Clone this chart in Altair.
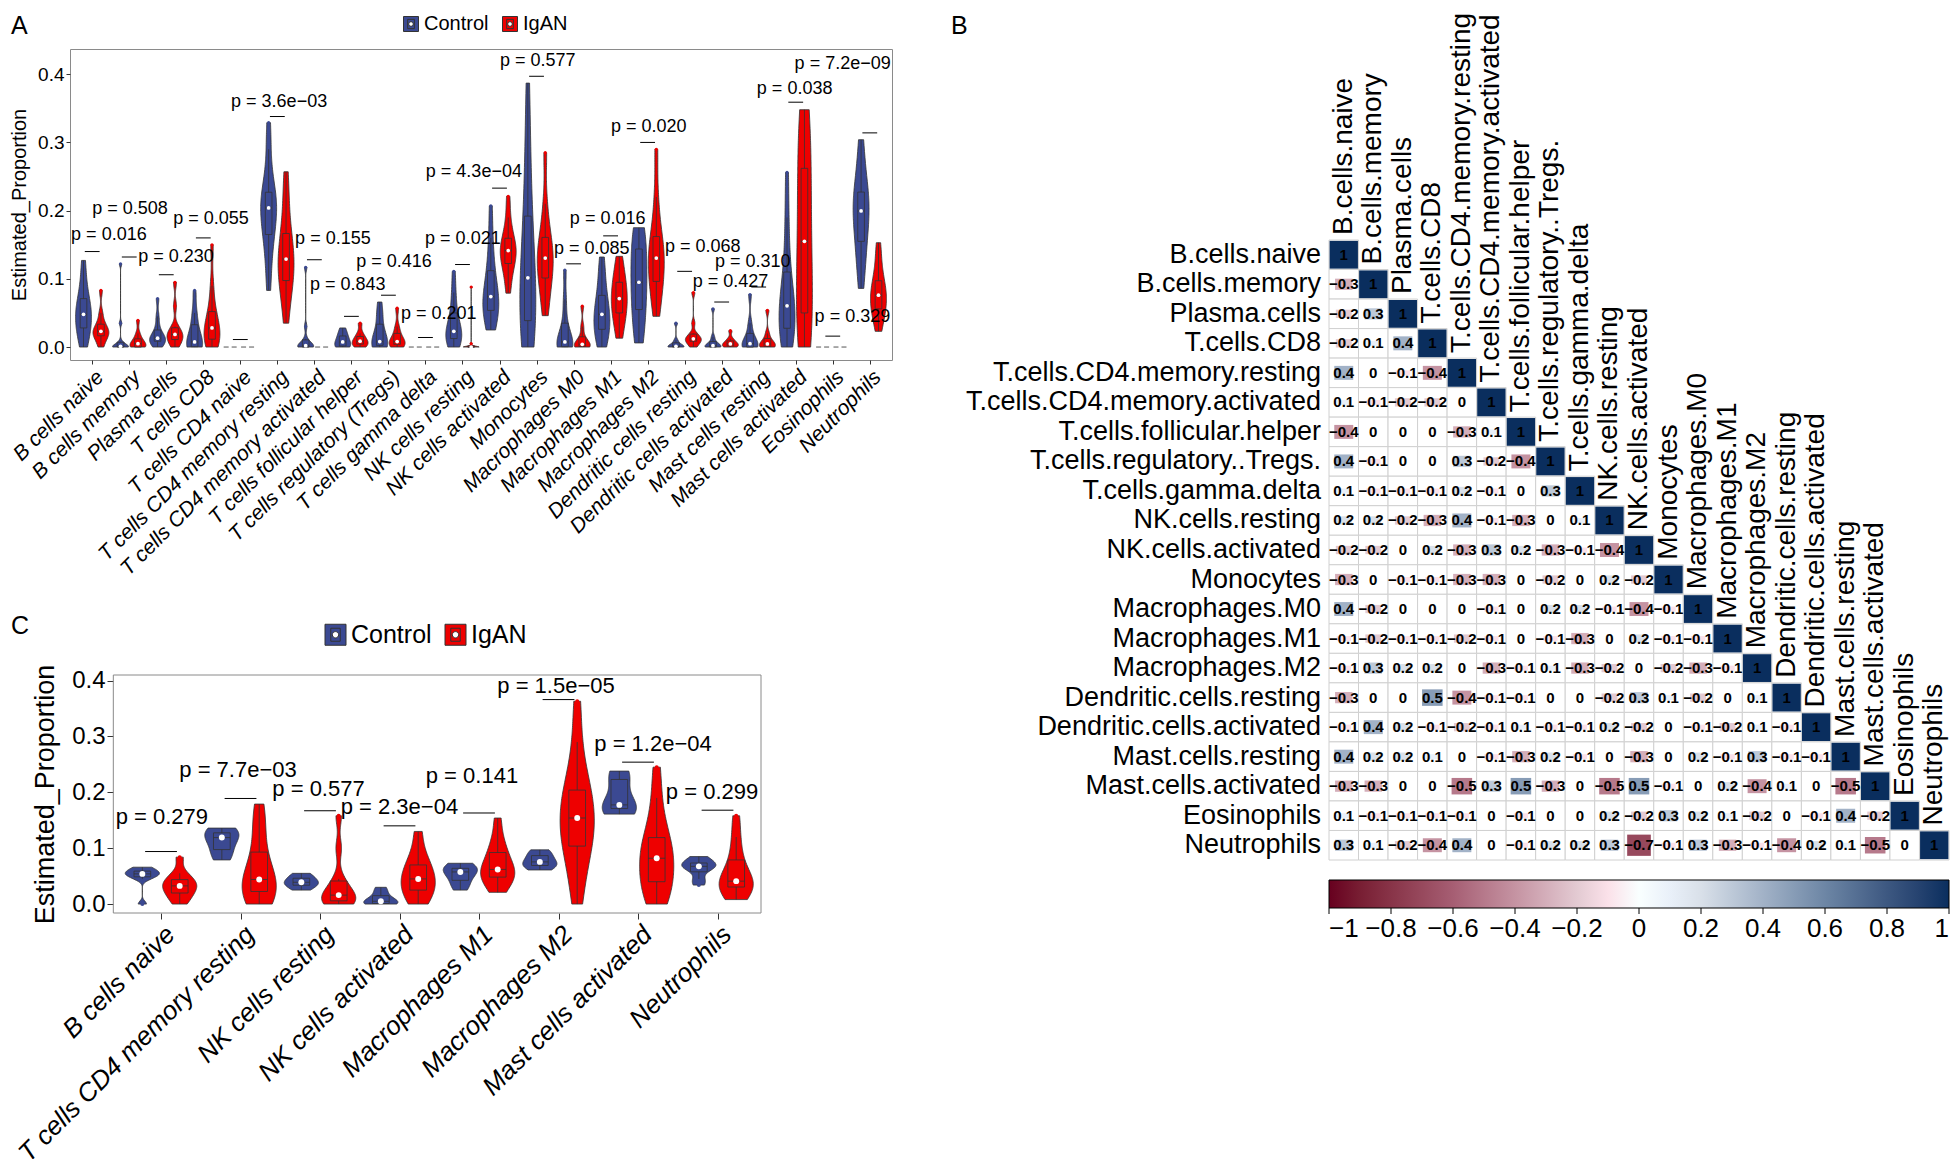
import altair as alt
import pandas as pd

FONT = "Liberation Sans"
CTRL_COL = "#3B4992"
IGAN_COL = "#EE0000"
GROUPS = ["Control", "IgAN"]
# legend glyph: filled square with a small box outline and a white median dot (hole)
LEG_SYMBOL = ("M-1,-1H1V1H-1Z M-0.45,-0.62H0.45 M-0.45,0.62H0.45 M-0.45,-0.62V0.62 M0.45,-0.62V0.62 "
              "M0,-0.3A0.3,0.3 0 1,0 0,0.3A0.3,0.3 0 1,0 0,-0.3Z")

# ---------------- Panel A data ----------------
A_cats = ["B cells naive", "B cells memory", "Plasma cells", "T cells CD8", "T cells CD4 naive",
          "T cells CD4 memory resting", "T cells CD4 memory activated", "T cells follicular helper",
          "T cells regulatory (Tregs)", "T cells gamma delta", "NK cells resting", "NK cells activated",
          "Monocytes", "Macrophages M0", "Macrophages M1", "Macrophages M2", "Dendritic cells resting",
          "Dendritic cells activated", "Mast cells resting", "Mast cells activated", "Eosinophils",
          "Neutrophils"]
A_control = [
    [0.0, 0.01, 0.022, 0.03, 0.04, 0.046, 0.05, 0.058, 0.068, 0.08, 0.1, 0.127],
    [0, 0, 0, 0, 0, 0.002, 0.004, 0.008, 0.035, 0.122],
    [0, 0.004, 0.007, 0.01, 0.011, 0.013, 0.016, 0.02, 0.03, 0.045, 0.071],
    [0, 0, 0, 0.002, 0.005, 0.01, 0.02, 0.037, 0.05, 0.083],
    [0, 0, 0, 0, 0, 0, 0, 0],
    [0.083, 0.12, 0.15, 0.165, 0.18, 0.195, 0.204, 0.21, 0.22, 0.227, 0.25, 0.29, 0.329],
    [0, 0, 0, 0, 0.001, 0.003, 0.006, 0.012, 0.03, 0.117],
    [0, 0, 0.002, 0.005, 0.01, 0.015, 0.02, 0.028],
    [0, 0, 0.002, 0.004, 0.006, 0.01, 0.02, 0.038, 0.05, 0.066],
    [0, 0, 0, 0, 0, 0, 0, 0],
    [0, 0.005, 0.01, 0.015, 0.02, 0.023, 0.03, 0.04, 0.06, 0.08, 0.111],
    [0.025, 0.04, 0.05, 0.055, 0.062, 0.07, 0.078, 0.09, 0.106, 0.13, 0.16, 0.207],
    [0, 0.01, 0.025, 0.035, 0.05, 0.07, 0.093, 0.11, 0.13, 0.168, 0.2, 0.25, 0.31, 0.387],
    [0, 0, 0, 0.002, 0.005, 0.01, 0.02, 0.04, 0.07, 0.113],
    [0, 0.01, 0.02, 0.028, 0.036, 0.044, 0.052, 0.06, 0.071, 0.09, 0.11, 0.132],
    [0.006, 0.02, 0.04, 0.06, 0.08, 0.09, 0.1, 0.12, 0.14, 0.155, 0.165, 0.175],
    [0, 0, 0, 0, 0.002, 0.005, 0.01, 0.035],
    [0, 0, 0, 0, 0.002, 0.004, 0.008, 0.015, 0.056],
    [0, 0, 0, 0.002, 0.005, 0.01, 0.02, 0.035, 0.077],
    [0, 0.01, 0.02, 0.03, 0.045, 0.056, 0.065, 0.075, 0.1, 0.14, 0.19, 0.256],
    [0, 0, 0, 0, 0, 0, 0, 0],
    [0.086, 0.12, 0.14, 0.16, 0.18, 0.194, 0.205, 0.215, 0.223, 0.24, 0.27, 0.304],
]
A_igan = [
    [0.0, 0.008, 0.015, 0.018, 0.02, 0.023, 0.026, 0.03, 0.037, 0.05, 0.083],
    [0, 0, 0, 0.002, 0.005, 0.008, 0.012, 0.02, 0.039],
    [0, 0.006, 0.01, 0.014, 0.017, 0.02, 0.023, 0.03, 0.06, 0.095],
    [0, 0.003, 0.008, 0.015, 0.022, 0.028, 0.034, 0.044, 0.06, 0.09, 0.15],
    [0, 0, 0, 0, 0, 0, 0, 0],
    [0.035, 0.07, 0.09, 0.1, 0.115, 0.125, 0.133, 0.145, 0.16, 0.186, 0.22, 0.257],
    [0, 0, 0, 0, 0, 0, 0, 0],
    [0, 0.002, 0.005, 0.007, 0.01, 0.014, 0.02, 0.035],
    [0, 0.002, 0.004, 0.006, 0.008, 0.012, 0.02, 0.03, 0.057],
    [0, 0, 0, 0, 0, 0, 0, 0],
    [0, 0, 0, 0, 0, 0, 0.001, 0.002, 0.005, 0.088],
    [0.079, 0.1, 0.115, 0.125, 0.132, 0.138, 0.145, 0.15, 0.156, 0.17, 0.19, 0.221],
    [0.046, 0.07, 0.09, 0.105, 0.115, 0.126, 0.135, 0.145, 0.156, 0.175, 0.21, 0.285],
    [0, 0, 0.001, 0.002, 0.004, 0.008, 0.015, 0.03, 0.06],
    [0.013, 0.03, 0.045, 0.055, 0.063, 0.071, 0.08, 0.09, 0.1, 0.115, 0.133],
    [0.045, 0.07, 0.085, 0.1, 0.115, 0.126, 0.135, 0.145, 0.156, 0.18, 0.22, 0.29],
    [0, 0.004, 0.008, 0.01, 0.011, 0.013, 0.016, 0.02, 0.035, 0.08],
    [0, 0, 0.002, 0.004, 0.005, 0.008, 0.012, 0.024],
    [0, 0, 0.001, 0.003, 0.006, 0.01, 0.02, 0.054],
    [0, 0.01, 0.025, 0.04, 0.06, 0.09, 0.12, 0.155, 0.18, 0.21, 0.244, 0.28, 0.31, 0.33, 0.348],
    [0, 0, 0, 0, 0, 0, 0, 0],
    [0.023, 0.04, 0.05, 0.058, 0.065, 0.072, 0.08, 0.088, 0.093, 0.11, 0.13, 0.153],
]
A_p_labels = ["0.016", "0.508", "0.230", "0.055", "", "3.6e\u221203", "0.155", "0.843", "0.416", "0.201",
              "0.021", "4.3e\u221204", "0.577", "0.085", "0.016", "0.020", "0.068", "0.427", "0.310",
              "0.038", "0.329", "7.2e\u221209"]
A_p_x = [-0.57, 0.0, 1.24, 2.19, 0, 3.75, 5.48, 5.88, 7.13, 8.34, 8.99, 9.01, 11.01, 12.47, 12.9,
         14.01, 15.47, 16.22, 16.82, 17.95, 19.51, 18.97]
A_p_y = [0.164, 0.203, 0.132, 0.188, 0, 0.36, 0.158, 0.091, 0.124, 0.049, 0.158, 0.257, 0.419, 0.144,
         0.188, 0.322, 0.146, 0.096, 0.125, 0.378, 0.044, 0.415]
A_line_y = [0.14, 0.132, 0.106, 0.16, 0.011, 0.338, 0.128, 0.045, 0.076, 0.014, 0.121, 0.233, 0.397,
            0.122, 0.163, 0.3, 0.111, 0.066, 0.088, 0.359, 0.016, 0.314]

# ---------------- Panel C data ----------------
C_cats = ["B cells naive", "T cells CD4 memory resting", "NK cells resting", "NK cells activated",
          "Macrophages M1", "Macrophages M2", "Mast cells activated", "Neutrophils"]
C_control = [
    [0.0, 0.045, 0.05, 0.053, 0.055, 0.058, 0.062, 0.066],
    [0.079, 0.09, 0.105, 0.119, 0.125, 0.13, 0.136],
    [0.025, 0.03, 0.035, 0.038, 0.04, 0.045, 0.05, 0.055],
    [0, 0, 0.002, 0.005, 0.01, 0.02, 0.03],
    [0.025, 0.035, 0.045, 0.055, 0.06, 0.063, 0.067, 0.073],
    [0.061, 0.066, 0.07, 0.073, 0.078, 0.085, 0.092, 0.097],
    [0.161, 0.168, 0.172, 0.175, 0.18, 0.22, 0.232, 0.238],
    [0.034, 0.045, 0.062, 0.066, 0.069, 0.072, 0.078, 0.085],
]
C_igan = [
    [0, 0.01, 0.018, 0.025, 0.03, 0.035, 0.04, 0.045, 0.055, 0.084],
    [0, 0.005, 0.015, 0.025, 0.032, 0.038, 0.05, 0.065, 0.084, 0.12, 0.15, 0.179],
    [0, 0.002, 0.005, 0.008, 0.012, 0.02, 0.03, 0.045, 0.1, 0.158],
    [0, 0.01, 0.02, 0.03, 0.038, 0.045, 0.055, 0.065, 0.075, 0.095, 0.13],
    [0.021, 0.035, 0.043, 0.05, 0.055, 0.059, 0.065, 0.075, 0.09, 0.099, 0.12, 0.154],
    [0, 0.04, 0.08, 0.1, 0.115, 0.13, 0.145, 0.163, 0.18, 0.195, 0.207, 0.24, 0.29, 0.363],
    [0, 0.01, 0.025, 0.04, 0.055, 0.07, 0.082, 0.095, 0.11, 0.119, 0.15, 0.19, 0.245],
    [0.008, 0.02, 0.028, 0.033, 0.037, 0.041, 0.052, 0.068, 0.09, 0.12, 0.158],
]
C_p_labels = ["0.279", "7.7e\u221203", "0.577", "2.3e\u221204", "0.141", "1.5e\u221205", "1.2e\u221204", "0.299"]
C_p_x = [-0.57, 0.23, 1.40, 2.26, 3.33, 4.23, 5.45, 6.35]
C_p_y = [0.155, 0.24, 0.206, 0.173, 0.23, 0.391, 0.287, 0.2]
C_line_y = [0.094, 0.189, 0.167, 0.14, 0.163, 0.366, 0.254, 0.168]

# ---------------- Panel B data ----------------
corr_names = ["B.cells.naive", "B.cells.memory", "Plasma.cells", "T.cells.CD8",
              "T.cells.CD4.memory.resting", "T.cells.CD4.memory.activated", "T.cells.follicular.helper",
              "T.cells.regulatory..Tregs.", "T.cells.gamma.delta", "NK.cells.resting", "NK.cells.activated",
              "Monocytes", "Macrophages.M0", "Macrophages.M1", "Macrophages.M2", "Dendritic.cells.resting",
              "Dendritic.cells.activated", "Mast.cells.resting", "Mast.cells.activated", "Eosinophils",
              "Neutrophils"]
corr_rows = [
    [1],
    [-0.3, 1],
    [-0.2, 0.3, 1],
    [-0.2, 0.1, 0.4, 1],
    [0.4, 0, -0.1, -0.4, 1],
    [0.1, -0.1, -0.2, -0.2, 0, 1],
    [-0.4, 0, 0, 0, -0.3, 0.1, 1],
    [0.4, -0.1, 0, 0, 0.3, -0.2, -0.4, 1],
    [0.1, -0.1, -0.1, -0.1, 0.2, -0.1, 0, 0.3, 1],
    [0.2, 0.2, -0.2, -0.3, 0.4, -0.1, -0.3, 0, 0.1, 1],
    [-0.2, -0.2, 0, 0.2, -0.3, 0.3, 0.2, -0.3, -0.1, -0.4, 1],
    [-0.3, 0, -0.1, -0.1, -0.3, -0.3, 0, -0.2, 0, 0.2, -0.2, 1],
    [0.4, -0.2, 0, 0, 0, -0.1, 0, 0.2, 0.2, -0.1, -0.4, -0.1, 1],
    [-0.1, -0.2, -0.1, -0.1, -0.2, -0.1, 0, -0.1, -0.3, 0, 0.2, -0.1, -0.1, 1],
    [-0.1, 0.3, 0.2, 0.2, 0, -0.3, -0.1, 0.1, -0.3, -0.2, 0, -0.2, -0.3, -0.1, 1],
    [-0.3, 0, 0, 0.5, -0.4, -0.1, -0.1, 0, 0, -0.2, 0.3, 0.1, -0.2, 0, 0.1, 1],
    [-0.1, 0.4, 0.2, -0.1, -0.2, -0.1, 0.1, -0.1, -0.1, 0.2, -0.2, 0, -0.1, -0.2, 0.1, -0.1, 1],
    [0.4, 0.2, 0.2, 0.1, 0, -0.1, -0.3, 0.2, -0.1, 0, -0.3, 0, 0.2, -0.1, 0.3, -0.1, -0.1, 1],
    [-0.3, -0.3, 0, 0, -0.5, 0.3, 0.5, -0.3, 0, -0.5, 0.5, -0.1, 0, 0.2, -0.4, 0.1, 0, -0.5, 1],
    [0.1, -0.1, -0.1, -0.1, -0.1, 0, -0.1, 0, 0, 0.2, -0.2, 0.3, 0.2, 0.1, -0.2, 0, -0.1, 0.4, -0.2, 1],
    [0.3, 0.1, -0.2, -0.4, 0.4, 0, -0.1, 0.2, 0.2, 0.3, -0.7, -0.1, 0.3, -0.3, -0.1, -0.4, 0.2, 0.1,
     -0.5, 0, 1],
]
cbar_ticks = [-1, -0.8, -0.6, -0.4, -0.2, 0, 0.2, 0.4, 0.6, 0.8, 1]
corr_domain = [-1, -0.6, -0.2, 0, 0.2, 0.6, 1]
corr_colors = ["#67001F", "#A65E73", "#E3CAD2", "#FFFFFF", "#D9E0E9", "#6D86A5", "#0A2E5E"]

OFF = 0.235
VW = 0.215


def violin_panel(cats, ctrl, igan, p_lab, p_x, p_y, line_y, W, H, xdom, ydom, st, letter,
                 framed=False):
    n = len(cats)
    rows = []
    for i in range(n):
        for v in ctrl[i]:
            rows.append({"cat": i, "group": "Control", "value": v})
        for v in igan[i]:
            rows.append({"cat": i, "group": "IgAN", "value": v})
    df = pd.DataFrame(rows)
    ann = pd.DataFrame({"cat": list(range(n)), "label": ["p = " + s if s else "" for s in p_lab],
                        "tx": p_x, "ty": p_y, "ly": line_y})

    xs = alt.Scale(domain=xdom, nice=False, zero=False)
    ys = alt.Scale(domain=ydom, nice=False, zero=False)
    fsc = alt.Scale(domain=GROUPS, range=[CTRL_COL, IGAN_COL])
    lab_expr = "[" + ",".join("'%s'" % c for c in cats) + "][datum.value]"
    xax = alt.Axis(values=list(range(n)), labelExpr=lab_expr, labelAngle=-45, labelAlign="right",
                   labelBaseline="top", labelFontSize=st["xlab"], labelFontStyle="italic",
                   labelOverlap=False, labelFlush=False, labelLimit=600, labelPadding=2,
                   grid=False, domain=False, tickSize=st["tick"], tickColor="#333333",
                   labelColor="black", title=None)
    yax = alt.Axis(values=[0, 0.1, 0.2, 0.3, 0.4], format=".1f", labelFontSize=st["ylab"],
                   labelPadding=2, grid=False, domain=False, tickSize=st["tick"], tickColor="#333333",
                   labelColor="black", title="Estimated_Proportion", titleFontSize=st["ytitle"],
                   titleFontWeight="normal", titleColor="black", titlePadding=st["tpad"],
                   offset=st["yoff"])
    leg = alt.Legend(title=None, orient="none", legendX=st["legx"], legendY=st["legy"],
                     direction="horizontal", symbolType=LEG_SYMBOL, symbolSize=st["sym"] ** 2,
                     symbolStrokeColor="#333333", symbolStrokeWidth=1, labelFontSize=st["legfs"],
                     labelOffset=3, columnPadding=11, symbolOpacity=1)

    def X(f):
        return alt.X(f, scale=xs, axis=xax)

    def Y(f):
        return alt.Y(f, scale=ys, axis=yax)

    def F():
        return alt.Fill("group:N", scale=fsc, legend=leg)

    center = "datum.cat + (datum.group == 'Control' ? -%g : %g)" % (OFF, OFF)
    mm = {"joinaggregate": [{"op": "min", "field": "value", "as": "vmin"},
                            {"op": "max", "field": "value", "as": "vmax"}],
          "groupby": ["cat", "group"]}
    qq = {"joinaggregate": [{"op": "q1", "field": "value", "as": "q1"},
                            {"op": "q3", "field": "value", "as": "q3"}],
          "groupby": ["cat", "group"]}
    nonflat = {"filter": "datum.vmax > datum.vmin"}

    layers = []
    if framed:
        frame = pd.DataFrame({"x0": [-0.6], "x1": [xdom[1]], "y0": [ydom[0]], "y1": [ydom[1]]})
        layers.append(alt.Chart(frame).mark_rect(fill="transparent", stroke="#8a8a8a",
                                                 strokeWidth=1).encode(
            x=X("x0:Q"), x2="x1:Q", y=Y("y0:Q"), y2="y1:Q"))

    viol = alt.Chart(df, transform=[
        mm, nonflat,
        {"density": "value", "groupby": ["cat", "group"], "resolve": "independent", "as": ["v", "d"]},
        {"joinaggregate": [{"op": "max", "field": "d", "as": "dmax"}], "groupby": ["cat", "group"]},
        {"calculate": center, "as": "cx"},
        {"calculate": "datum.cx - %g*datum.d/datum.dmax" % VW, "as": "xl"},
        {"calculate": "datum.cx + %g*datum.d/datum.dmax" % VW, "as": "xr"},
    ]).mark_area(orient="horizontal", stroke="#333333", strokeWidth=0.8).encode(
        y=Y("v:Q"), x=alt.X("xl:Q", scale=xs, axis=xax, stack=None), x2="xr:Q",
        fill=F(), detail="cat:N")

    whisk = alt.Chart(df, transform=[
        mm, nonflat, qq,
        {"filter": "datum.value >= datum.q1 - 1.5*(datum.q3-datum.q1) && datum.value <= datum.q3 + 1.5*(datum.q3-datum.q1)"},
        {"aggregate": [{"op": "min", "field": "value", "as": "wlo"},
                       {"op": "max", "field": "value", "as": "whi"}], "groupby": ["cat", "group"]},
        {"calculate": center, "as": "cx"},
    ]).mark_rule(color="#333333", strokeWidth=0.8).encode(x=X("cx:Q"), y=Y("wlo:Q"), y2="whi:Q")

    boxagg = [mm, nonflat,
              {"aggregate": [{"op": "q1", "field": "value", "as": "q1"},
                             {"op": "q3", "field": "value", "as": "q3"},
                             {"op": "median", "field": "value", "as": "med"}],
               "groupby": ["cat", "group"]},
              {"calculate": center, "as": "cx"},
              {"calculate": "datum.cx - %g" % st["bhw"], "as": "bl"},
              {"calculate": "datum.cx + %g" % st["bhw"], "as": "br"}]
    box = alt.Chart(df, transform=boxagg).mark_rect(stroke="#333333", strokeWidth=0.8).encode(
        x=X("bl:Q"), x2="br:Q", y=Y("q1:Q"), y2="q3:Q", fill=F())
    medline = alt.Chart(df, transform=boxagg).mark_rule(color="#333333", strokeWidth=0.8).encode(
        x=X("bl:Q"), x2="br:Q", y=Y("med:Q"))
    meddot = alt.Chart(df, transform=boxagg).mark_circle(color="white", opacity=1,
                                                         size=st["dot"]).encode(
        x=X("cx:Q"), y=Y("med:Q"))
    outl = alt.Chart(df, transform=[
        mm, nonflat, qq,
        {"filter": "datum.value < datum.q1 - 1.5*(datum.q3-datum.q1) || datum.value > datum.q3 + 1.5*(datum.q3-datum.q1)"},
        {"calculate": center, "as": "cx"},
    ]).mark_point(filled=True, opacity=1, size=st["out"], shape="circle").encode(
        x=X("cx:Q"), y=Y("value:Q"), fill=F())

    flat = alt.Chart(df, transform=[
        {"aggregate": [{"op": "min", "field": "value", "as": "vmin"},
                       {"op": "max", "field": "value", "as": "vmax"}], "groupby": ["cat", "group"]},
        {"filter": "datum.vmax == datum.vmin"},
        {"calculate": center, "as": "cx"},
        {"calculate": "datum.cx - %g" % VW, "as": "xl"},
        {"calculate": "datum.cx + %g" % VW, "as": "xr"},
    ]).mark_rule(color="#555555", strokeWidth=1, strokeDash=[5, 3]).encode(
        x=X("xl:Q"), x2="xr:Q", y=Y("vmin:Q"))

    plines = alt.Chart(ann, transform=[
        {"calculate": "datum.cat - 0.2", "as": "l0"},
        {"calculate": "datum.cat + 0.2", "as": "l1"},
    ]).mark_rule(color="black", strokeWidth=1).encode(x=X("l0:Q"), x2="l1:Q", y=Y("ly:Q"))
    ptext = alt.Chart(ann, transform=[{"filter": "datum.label != ''"}]).mark_text(
        align="left", baseline="middle", fontSize=st["pfs"], color="black").encode(
        x=X("tx:Q"), y=Y("ty:Q"), text="label:N")

    let = alt.Chart(pd.DataFrame({"t": [letter]})).mark_text(
        align="left", baseline="top", fontSize=25, color="black").encode(
        text="t:N", x=alt.value(st["letx"]), y=alt.value(st["lety"]))

    layers += [viol, whisk, box, medline, outl, meddot, flat, plines, ptext, let]
    ch = alt.layer(*layers).properties(width=W, height=H)
    if framed:
        ch = ch.properties(view=alt.ViewBackground(stroke="transparent"))
    return ch


A_st = dict(xlab=21, ylab=19, ytitle=20, tpad=8, tick=4, legx=331, legy=-35, sym=15, legfs=20,
            bhw=0.09, dot=14, out=10, pfs=18, letx=-59, lety=-35, yoff=0)
C_st = dict(xlab=26, ylab=24, ytitle=27, tpad=12, tick=6, legx=253, legy=-53, sym=21, legfs=25,
            bhw=0.105, dot=35, out=16, pfs=22, letx=-59, lety=-61, yoff=-43)

panelA = violin_panel(A_cats, A_control, A_igan, A_p_labels, A_p_x, A_p_y, A_line_y,
                      822, 311, [-0.6, 21.6], [-0.019, 0.437], A_st, "A")
panelC = violin_panel(C_cats, C_control, C_igan, C_p_labels, C_p_x, C_p_y, C_line_y,
                      691, 238, [-1.145, 7.547], [-0.016, 0.41], C_st, "C", framed=True)

# ---------------- Panel B ----------------
N = len(corr_names)
BW = 620
CELL = BW / N
BH = 811
ytop = N - BH / CELL
cells = []
for i, row in enumerate(corr_rows):
    for j, r in enumerate(row):
        cells.append({"i": i, "j": j, "r": r})
dfc = pd.DataFrame(cells)
dfn = pd.DataFrame({"k": list(range(N)), "name": corr_names})

bxs = alt.Scale(domain=[0, N], nice=False, zero=False)
bys = alt.Scale(domain=[ytop, N], nice=False, zero=False, reverse=True)


def BX(f):
    return alt.X(f, scale=bxs, axis=None)


def BY(f):
    return alt.Y(f, scale=bys, axis=None)


grid = alt.Chart(dfc, transform=[
    {"calculate": "datum.j + 1", "as": "j1"}, {"calculate": "datum.i + 1", "as": "i1"}]).mark_rect(
    fill="white", stroke="#d0d0d0", strokeWidth=1).encode(
    x=BX("j:Q"), x2="j1:Q", y=BY("i:Q"), y2="i1:Q")

bar_top = BH + 20
cbar_leg = alt.Legend(title=None, orient="none", legendX=0, legendY=bar_top, direction="horizontal",
                      gradientLength=BW, gradientThickness=28, values=cbar_ticks, format="~g",
                      labelFontSize=26, labelOffset=8, labelOverlap=False,
                      gradientStrokeColor="black", gradientStrokeWidth=1)
squares = alt.Chart(dfc, transform=[
    {"filter": "datum.r != 0"},
    {"calculate": "abs(datum.r)", "as": "a"},
    {"calculate": "0.48*(0.45+0.55*datum.a)", "as": "hw"},
    {"calculate": "0.47*pow(datum.a, 0.75)", "as": "hh"},
    {"calculate": "datum.j + 0.5 - datum.hw", "as": "x0"},
    {"calculate": "datum.j + 0.5 + datum.hw", "as": "x1"},
    {"calculate": "datum.i + 0.5 - datum.hh", "as": "y0"},
    {"calculate": "datum.i + 0.5 + datum.hh", "as": "y1"},
]).mark_rect().encode(
    x=BX("x0:Q"), x2="x1:Q", y=BY("y0:Q"), y2="y1:Q",
    fill=alt.Fill("r:Q", scale=alt.Scale(domain=corr_domain, range=corr_colors), legend=cbar_leg))

# small tick marks under the colour bar, at the legend values
ticks_df = pd.DataFrame({"t": cbar_ticks})
cticks = alt.Chart(ticks_df, transform=[
    {"calculate": "(datum.t + 1) / 2 * %d" % N, "as": "tx"},
    {"calculate": "%f" % (N + (20 + 28) / CELL), "as": "t0"},
    {"calculate": "%f" % (N + (20 + 28 + 6) / CELL), "as": "t1"},
]).mark_rule(color="black", strokeWidth=1).encode(x=BX("tx:Q"), y=BY("t0:Q"), y2="t1:Q")

nums = alt.Chart(dfc, transform=[
    {"calculate": "datum.j + 0.5", "as": "jc"}, {"calculate": "datum.i + 0.5", "as": "ic"},
    {"calculate": "format(datum.r, '~g')", "as": "lab"}]).mark_text(
    fontSize=15, fontWeight="bold", color="black").encode(
    x=BX("jc:Q"), y=BY("ic:Q"), text="lab:N")

rowlab = alt.Chart(dfn, transform=[{"calculate": "datum.k + 0.5", "as": "kc"}]).mark_text(
    align="right", baseline="middle", fontSize=27, color="black").encode(
    x=alt.value(-8), y=BY("kc:Q"), text="name:N")
collab = alt.Chart(dfn, transform=[{"calculate": "datum.k + 0.5", "as": "kc"}]).mark_text(
    align="left", baseline="middle", angle=270, fontSize=28, dx=5, color="black").encode(
    x=BX("kc:Q"), y=BY("k:Q"), text="name:N")
letB = alt.Chart(pd.DataFrame({"t": ["B"]})).mark_text(
    align="left", baseline="top", fontSize=25, color="black").encode(
    text="t:N", x=alt.value(-378), y=alt.value(-35))

panelB = alt.layer(grid, squares, cticks, nums, rowlab, collab, letB).properties(
    width=BW, height=BH, view=alt.ViewBackground(stroke="transparent"))

left = alt.concat(panelA, panelC, columns=1, spacing=33).resolve_scale(
    x="independent", y="independent", fill="independent").resolve_legend(fill="independent")
chart = alt.concat(left, panelB, columns=2, spacing=57).resolve_scale(
    x="independent", y="independent", fill="independent").resolve_legend(fill="independent")
chart = chart.properties(padding={"top": 4, "left": 0, "right": 0, "bottom": 0}).configure(
    font=FONT).configure_view(stroke="#8a8a8a", strokeWidth=1).configure_axis(
    labelFont=FONT, titleFont=FONT).configure_legend(labelFont=FONT, labelColor="black")

chart.save("out.html", embed_options={"renderer": "svg", "actions": False})
